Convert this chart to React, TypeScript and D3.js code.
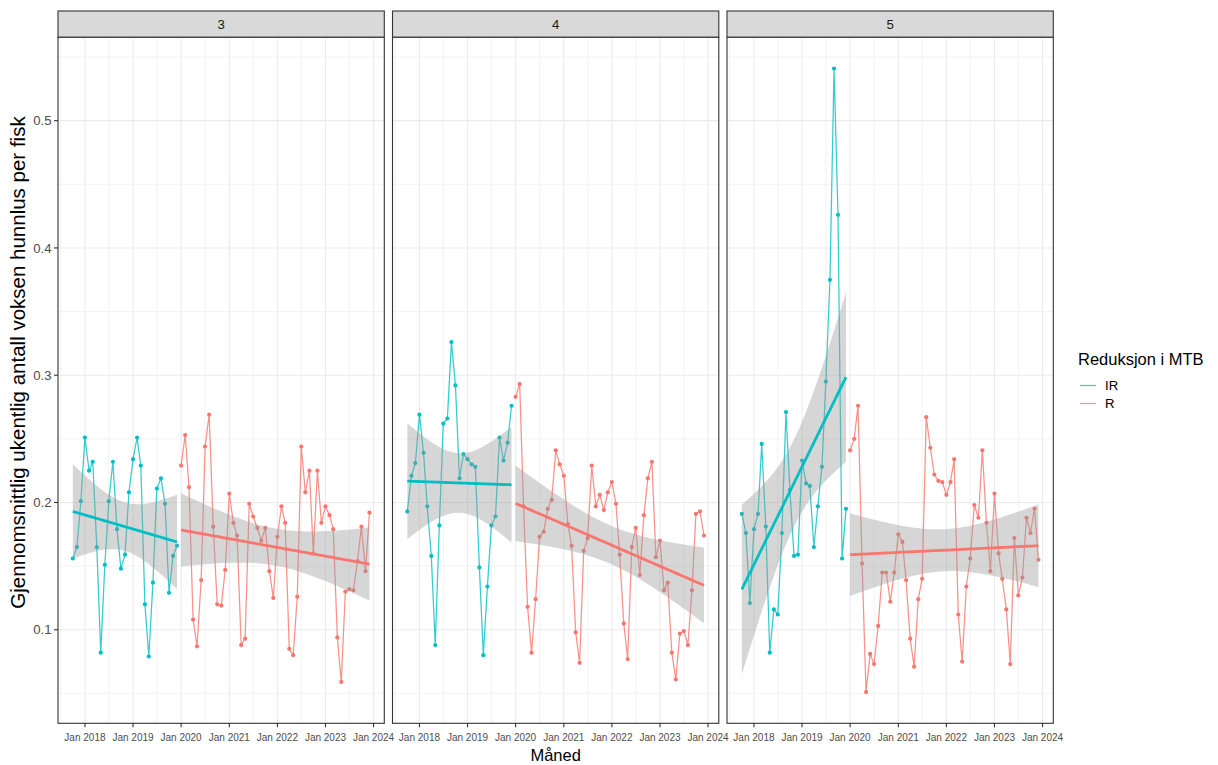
import React from "react";
import * as d3 from "d3";

// Facet labels and groups
const facets = ["3", "4", "5"];
const groups = ["IR", "R"];
const groupColors: Record<string, string> = { IR: "#00BFC4", R: "#F8766D" };

// Monthly dates: IR period Oct 2017 – Dec 2019, R period Jan 2020 – Dec 2023
const irMonths = d3.utcMonth.range(new Date(Date.UTC(2017, 9, 1)), new Date(Date.UTC(2020, 0, 1)));
const rMonths = d3.utcMonth.range(new Date(Date.UTC(2020, 0, 1)), new Date(Date.UTC(2024, 0, 1)));

// Mean weekly adult female lice per fish, by facet
const ir3 = [0.156, 0.165, 0.201, 0.251, 0.225, 0.232, 0.165, 0.082, 0.151, 0.201, 0.232, 0.179, 0.148, 0.159, 0.208, 0.234, 0.251, 0.229, 0.120, 0.079, 0.137, 0.211, 0.219, 0.199, 0.129, 0.158, 0.166];
const r3 = [0.229, 0.253, 0.212, 0.108, 0.087, 0.139, 0.244, 0.269, 0.181, 0.120, 0.119, 0.147, 0.207, 0.184, 0.174, 0.088, 0.093, 0.199, 0.189, 0.180, 0.170, 0.180, 0.146, 0.125, 0.173, 0.197, 0.184, 0.085, 0.080, 0.126, 0.244, 0.208, 0.225, 0.160, 0.225, 0.184, 0.197, 0.190, 0.179, 0.094, 0.059, 0.130, 0.132, 0.131, 0.154, 0.181, 0.146, 0.192];
const ir4 = [0.193, 0.221, 0.231, 0.269, 0.239, 0.197, 0.158, 0.088, 0.182, 0.262, 0.266, 0.326, 0.292, 0.219, 0.238, 0.234, 0.230, 0.228, 0.149, 0.080, 0.134, 0.182, 0.189, 0.251, 0.233, 0.247, 0.276];
const r4 = [0.283, 0.293, 0.197, 0.118, 0.082, 0.124, 0.173, 0.177, 0.195, 0.202, 0.241, 0.230, 0.221, 0.183, 0.166, 0.098, 0.074, 0.162, 0.172, 0.229, 0.197, 0.206, 0.194, 0.208, 0.216, 0.199, 0.159, 0.105, 0.077, 0.165, 0.180, 0.143, 0.190, 0.219, 0.232, 0.157, 0.170, 0.131, 0.137, 0.082, 0.061, 0.097, 0.099, 0.088, 0.131, 0.191, 0.193, 0.174];
const ir5 = [0.191, 0.176, 0.121, 0.179, 0.191, 0.246, 0.181, 0.082, 0.116, 0.112, 0.176, 0.271, 0.210, 0.158, 0.159, 0.233, 0.215, 0.213, 0.165, 0.197, 0.228, 0.295, 0.375, 0.541, 0.426, 0.156, 0.195];
const r5 = [0.241, 0.250, 0.276, 0.152, 0.051, 0.081, 0.073, 0.103, 0.145, 0.145, 0.122, 0.145, 0.175, 0.169, 0.139, 0.093, 0.071, 0.124, 0.140, 0.267, 0.243, 0.222, 0.217, 0.216, 0.206, 0.216, 0.234, 0.112, 0.075, 0.134, 0.156, 0.198, 0.188, 0.241, 0.184, 0.146, 0.207, 0.160, 0.140, 0.116, 0.073, 0.172, 0.127, 0.141, 0.188, 0.176, 0.195, 0.155];

const yTicks = [0.1, 0.2, 0.3, 0.4, 0.5];
const xTickYears = [2018, 2019, 2020, 2021, 2022, 2023, 2024];

const seriesByFacet: Record<string, { IR: number[]; R: number[] }> = {
  "3": { IR: ir3, R: r3 },
  "4": { IR: ir4, R: r4 },
  "5": { IR: ir5, R: r5 },
};
const monthsByGroup: Record<string, Date[]> = { IR: irMonths, R: rMonths };

// Layout
const W = 1218;
const H = 765;
const stripTop = 11;
const panelTop = 37.3;
const panelBottom = 723.3;
const panelWidth = 326.3;
const panelLefts = [58, 392.5, 727];
const font = "'Liberation Sans', Arial, sans-serif";

// Student t quantile (0.975) via Cornish–Fisher expansion
function tQuantile975(df: number) {
  const z = 1.959963985;
  const z3 = z ** 3, z5 = z ** 5, z7 = z ** 7;
  return (
    z +
    (z3 + z) / (4 * df) +
    (5 * z5 + 16 * z3 + 3 * z) / (96 * df * df) +
    (3 * z7 + 19 * z5 + 17 * z3 - 15 * z) / (384 * df ** 3)
  );
}

// Linear fit with 95% confidence band, evaluated at 80 points
function lmFit(dates: Date[], values: number[]) {
  const xs = dates.map((d) => +d / 864e5);
  const n = xs.length;
  const mx = d3.mean(xs)!;
  const my = d3.mean(values)!;
  let sxx = 0, sxy = 0;
  xs.forEach((x, i) => {
    sxx += (x - mx) ** 2;
    sxy += (x - mx) * (values[i] - my);
  });
  const b = sxy / sxx;
  const a = my - b * mx;
  let ss = 0;
  xs.forEach((x, i) => (ss += (values[i] - (a + b * x)) ** 2));
  const s = Math.sqrt(ss / (n - 2));
  const t = tQuantile975(n - 2);
  const x0 = d3.min(xs)!, x1 = d3.max(xs)!;
  return d3.range(80).map((i) => {
    const x = x0 + ((x1 - x0) * i) / 79;
    const fit = a + b * x;
    const se = s * Math.sqrt(1 / n + (x - mx) ** 2 / sxx);
    return { date: new Date(x * 864e5), fit, lo: fit - t * se, hi: fit + t * se };
  });
}

// Scales shared by all panels (ggplot-style 5% expansion)
const allDates = [...irMonths, ...rMonths];
const dMin = +d3.min(allDates)!;
const dMax = +d3.max(allDates)!;
const dPad = (dMax - dMin) * 0.05;
const xScale = d3.scaleUtc().domain([new Date(dMin - dPad), new Date(dMax + dPad)]).range([0, panelWidth]);

const allVals = [...ir3, ...r3, ...ir4, ...r4, ...ir5, ...r5];
const vMin = d3.min(allVals)!;
const vMax = d3.max(allVals)!;
const vPad = (vMax - vMin) * 0.05;
const yScale = d3.scaleLinear().domain([vMin - vPad, vMax + vPad]).range([panelBottom, panelTop]);

const majorX = xTickYears.map((y) => new Date(Date.UTC(y, 0, 1)));
const minorX = [2017, ...xTickYears].map((y) => new Date(Date.UTC(y, 6, 1))).filter((d) => {
  const p = xScale(d);
  return p > 0 && p < panelWidth;
});
const minorY = [0.05, 0.15, 0.25, 0.35, 0.45, 0.55].filter((v) => {
  const p = yScale(v);
  return p > panelTop && p < panelBottom;
});
const fmtMonth = d3.utcFormat("%b %Y");

function Panel({ facet, left, showY }: { facet: string; left: number; showY: boolean }) {
  const line = d3
    .line<{ d: Date; v: number }>()
    .x((p) => xScale(p.d))
    .y((p) => yScale(p.v));
  const area = d3
    .area<{ date: Date; lo: number; hi: number }>()
    .x((p) => xScale(p.date))
    .y0((p) => yScale(p.lo))
    .y1((p) => yScale(p.hi));
  const fitLine = d3
    .line<{ date: Date; fit: number }>()
    .x((p) => xScale(p.date))
    .y((p) => yScale(p.fit));

  const series = groups.map((g) => {
    const vals = seriesByFacet[facet][g as "IR" | "R"];
    const months = monthsByGroup[g];
    return { g, pts: months.map((d, i) => ({ d, v: vals[i] })), fit: lmFit(months, vals) };
  });

  return (
    <g>
      {/* strip */}
      <rect x={left} y={stripTop} width={panelWidth} height={panelTop - stripTop} fill="#D9D9D9" stroke="#333333" strokeWidth={1.1} />
      <text x={left + panelWidth / 2} y={(stripTop + panelTop) / 2 + 4.6} textAnchor="middle" fontSize={13.2} fill="#1A1A1A" fontFamily={font}>
        {facet}
      </text>
      <g transform={`translate(${left},0)`}>
        <rect x={0} y={panelTop} width={panelWidth} height={panelBottom - panelTop} fill="#FFFFFF" />
        {minorY.map((v) => (
          <line key={"my" + v} x1={0} x2={panelWidth} y1={yScale(v)} y2={yScale(v)} stroke="#EBEBEB" strokeWidth={0.6} />
        ))}
        {minorX.map((d) => (
          <line key={"mx" + +d} x1={xScale(d)} x2={xScale(d)} y1={panelTop} y2={panelBottom} stroke="#EBEBEB" strokeWidth={0.6} />
        ))}
        {yTicks.map((v) => (
          <line key={"gy" + v} x1={0} x2={panelWidth} y1={yScale(v)} y2={yScale(v)} stroke="#EBEBEB" strokeWidth={1.1} />
        ))}
        {majorX.map((d) => (
          <line key={"gx" + +d} x1={xScale(d)} x2={xScale(d)} y1={panelTop} y2={panelBottom} stroke="#EBEBEB" strokeWidth={1.1} />
        ))}
        {series.map((s) => (
          <g key={s.g}>
            <path d={line(s.pts) || ""} fill="none" stroke={groupColors[s.g]} strokeWidth={1.25} strokeOpacity={0.8} />
            {s.pts.map((p, i) => (
              <circle key={i} cx={xScale(p.d)} cy={yScale(p.v)} r={2.1} fill={groupColors[s.g]} />
            ))}
          </g>
        ))}
        {series.map((s) => (
          <g key={"fit" + s.g}>
            <path d={area(s.fit) || ""} fill="#999999" fillOpacity={0.4} />
            <path d={fitLine(s.fit) || ""} fill="none" stroke={groupColors[s.g]} strokeWidth={2.8} />
          </g>
        ))}
        <rect x={0} y={panelTop} width={panelWidth} height={panelBottom - panelTop} fill="none" stroke="#333333" strokeWidth={1.1} />
        {/* x axis */}
        {majorX.map((d) => (
          <g key={"xt" + +d}>
            <line x1={xScale(d)} x2={xScale(d)} y1={panelBottom} y2={panelBottom + 4} stroke="#333333" strokeWidth={1.1} />
            <text x={xScale(d)} y={panelBottom + 17.5} textAnchor="middle" fontSize={10} fill="#4D4D4D" fontFamily={font}>
              {fmtMonth(d)}
            </text>
          </g>
        ))}
        {/* y axis */}
        {showY &&
          yTicks.map((v) => (
            <g key={"yt" + v}>
              <line x1={-4} x2={0} y1={yScale(v)} y2={yScale(v)} stroke="#333333" strokeWidth={1.1} />
              <text x={-6.5} y={yScale(v) + 4.6} textAnchor="end" fontSize={13.2} fill="#4D4D4D" fontFamily={font}>
                {v.toFixed(1)}
              </text>
            </g>
          ))}
      </g>
    </g>
  );
}

export default function App() {
  const legendY = [385.5, 403.5];
  return (
    <div style={{ position: "absolute", left: 0, top: 0 }}>
      <svg width={W} height={H} viewBox={`0 0 ${W} ${H}`} style={{ display: "block", background: "#FFFFFF" }}>
        <rect x={0} y={0} width={W} height={H} fill="#FFFFFF" />
        {facets.map((f, i) => (
          <Panel key={f} facet={f} left={panelLefts[i]} showY={i === 0} />
        ))}
        <text
          transform={`translate(24.5,362.5) rotate(-90)`}
          textAnchor="middle"
          fontSize={20.5}
          fill="#000000"
          fontFamily={font}
        >
          Gjennomsnittlig ukentlig antall voksen hunnlus per fisk
        </text>
        <text x={(panelLefts[0] + panelLefts[2] + panelWidth) / 2} y={761} textAnchor="middle" fontSize={16.5} fill="#000000" fontFamily={font}>
          Måned
        </text>
        {/* legend */}
        <text x={1078} y={365} fontSize={16.5} fill="#000000" fontFamily={font}>
          Reduksjon i MTB
        </text>
        {groups.map((g, i) => (
          <g key={g}>
            <line x1={1080} x2={1096} y1={legendY[i]} y2={legendY[i]} stroke={groupColors[g]} strokeWidth={1.25} strokeOpacity={0.8} />
            <text x={1105} y={legendY[i] + 4.7} fontSize={13.2} fill="#000000" fontFamily={font}>
              {g}
            </text>
          </g>
        ))}
      </svg>
    </div>
  );
}
